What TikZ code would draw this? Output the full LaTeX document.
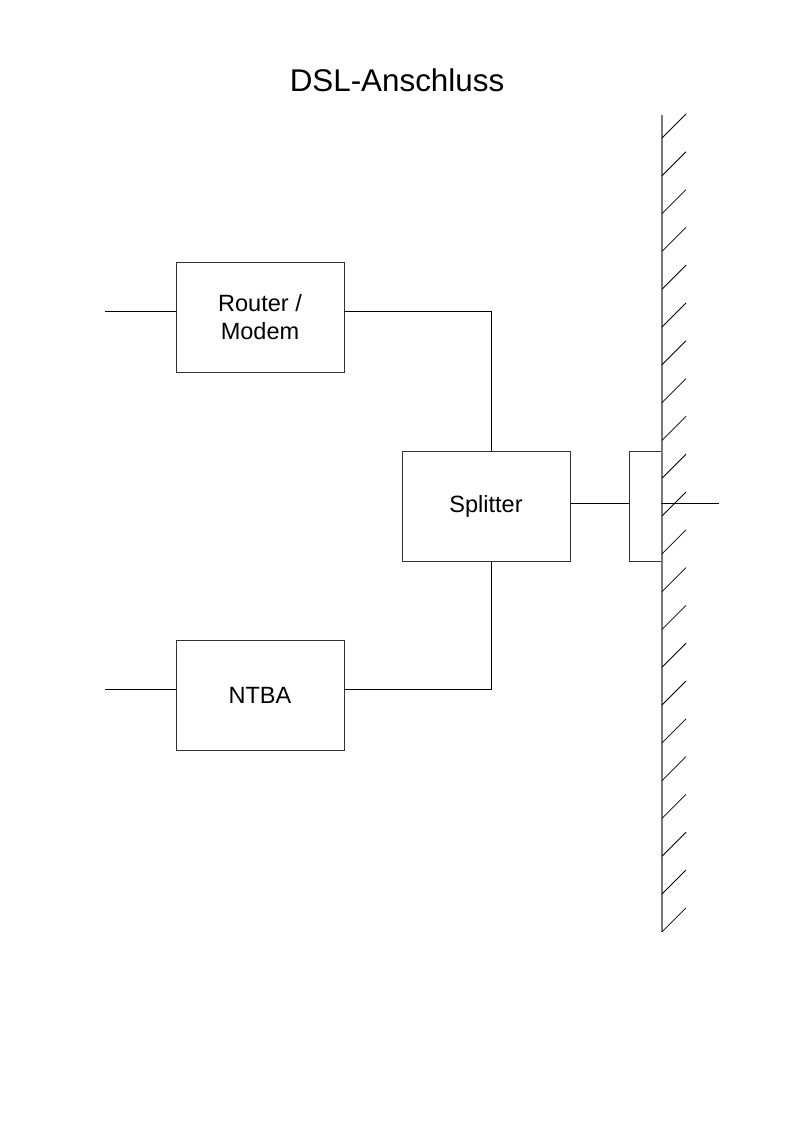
\documentclass[tikz,border=0pt]{standalone}
\usepackage{fontspec}
\setmainfont{Liberation Sans}
\usetikzlibrary{positioning,calc}
\definecolor{cLine}{HTML}{333333}
\definecolor{cWall}{HTML}{777777}
\tikzset{
  unitbox/.style={draw=cLine,line width=0.6pt,minimum width=4.44cm,minimum height=2.91cm,
    inner sep=0pt,align=center,font=\fontsize{17.7}{21}\selectfont},
  socketbox/.style={draw=cLine,line width=0.6pt,minimum width=0.846cm,minimum height=2.91cm,inner sep=0pt},
  wire/.style={black,line width=0.6pt},
  wall/.style={cWall,line width=1.5pt},
  hatch/.style={black,line width=0.6pt},
}
\begin{document}
\begin{tikzpicture}[x=0.02645cm,y=-0.02645cm]
  \useasboundingbox (0,0) rectangle (794,1123);
  % title
  \node[font=\fontsize{23.6}{28}\selectfont] (title) at (397,80) {DSL-Anschluss};
  % boxes
  \node[unitbox] (router) at (260,317) {Router /\\Modem};
  \node[unitbox] (split) at (486,506) {Splitter};
  \node[unitbox] (ntba) at (260,695) {NTBA};
  \node[socketbox] (tae) at (645,506) {};
  % free ends
  \coordinate (rin) at (105,311);
  \coordinate (nin) at (105,689);
  \coordinate (bus) at (491,0);
  \coordinate (out) at (719,503);
  % wall
  \coordinate (wtop) at (662,115);
  \coordinate (wbot) at (662,932);
  \draw[wall] (wtop) -- (wbot);
  \foreach \y in {0,...,21}
    \draw[hatch] (662,138+37.8*\y) -- ++(24,-24);
  % connectors
  \draw[wire] (rin) -- (rin -| router.west);
  \draw[wire] (nin) -- (nin -| ntba.west);
  \draw[wire] (rin -| router.east) -- (rin -| bus) -- (split.north -| bus);
  \draw[wire] (nin -| ntba.east) -- (nin -| bus) -- (split.south -| bus);
  \draw[wire] (out -| split.east) -- (out -| tae.west);
  \draw[wire] (out -| tae.east) -- (out);
\end{tikzpicture}
\end{document}
